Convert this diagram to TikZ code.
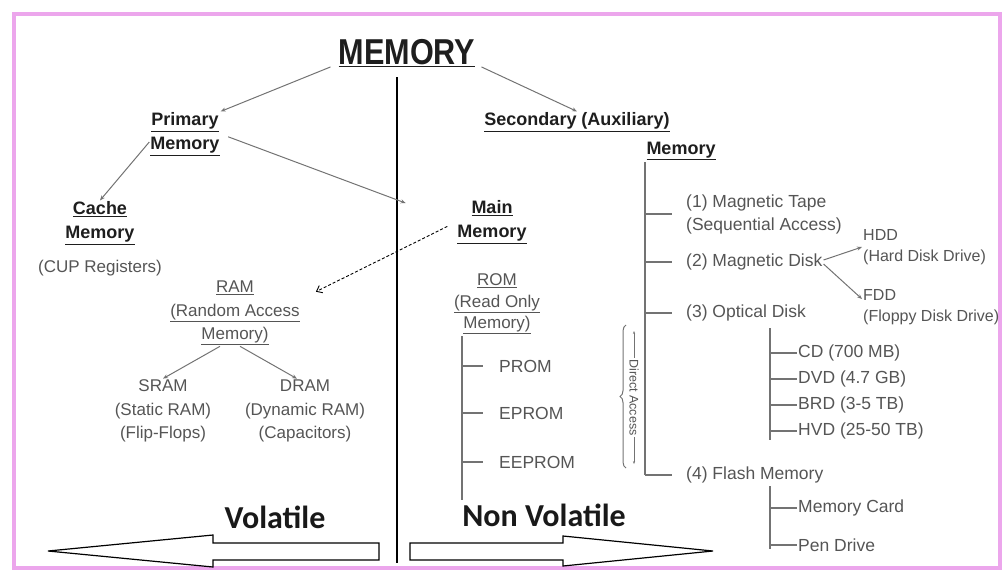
\documentclass[tikz,border=0pt]{standalone}
\usepackage{fontspec}
\setmainfont{Liberation Sans}
\newfontfamily\titlefont[FakeStretch=0.85]{Liberation Sans}
\newfontfamily\volfont{Carlito}
\usepackage{xcolor}
\usetikzlibrary{arrows.meta, positioning, calc, decorations.pathreplacing}
\definecolor{memPink}{RGB}{236,166,236}
\definecolor{memHead}{RGB}{30,30,30}
\definecolor{memGray}{RGB}{85,85,85}
\definecolor{memLine}{RGB}{115,115,115}

\begin{document}
\begin{tikzpicture}[x=1pt, y=-1pt]
    \tikzstyle{headtext} = [align=center, inner sep=1pt, text=memHead, font=\fontsize{18}{24}\selectfont\bfseries]
    \tikzstyle{subtext} = [align=center, inner sep=1pt, text=memGray, font=\fontsize{17}{23.5}\selectfont]
    \tikzstyle{itemtext} = [anchor=west, align=left, inner sep=1pt, text=memGray, font=\fontsize{17.5}{23}\selectfont]
    \tikzstyle{drivetext} = [itemtext, font=\fontsize{16}{21}\selectfont]
    \tikzstyle{bigword} = [inner sep=0pt, text=black!90, font=\volfont\fontsize{32}{36}\selectfont\bfseries]
    \tikzstyle{arrow} = [-{Stealth[length=5pt, width=4pt]}, line width=1pt, memLine]
    \tikzstyle{treeline} = [line width=1.2pt, memLine]
    \tikzstyle{blockarrow} = [line width=1.2pt, black, fill=white, line join=miter]

    \useasboundingbox (0,0) rectangle (1003,571);
    \draw[line width=4pt, memPink] (14,14) rectangle (1000,568);

    % left half
    \node[inner sep=0pt, text=memHead, font=\titlefont\fontsize{36}{40}\selectfont\bfseries] (memory) at (407,53) {\underline{MEMORY}};
    \node[headtext] (primary) at (185,134) {\underline{Primary}\\\underline{Memory}};
    \node[headtext] (cache) at (100,223) {\underline{Cache}\\\underline{Memory}};
    \node[subtext] (cup) at (100,268) {(CUP Registers)};
    \node[subtext] (ram) at (235,313) {\underline{RAM}\\\underline{(Random Access}\\\underline{Memory)}};
    \node[subtext] (sram) at (163,411) {SRAM\\(Static RAM)\\(Flip-Flops)};
    \node[subtext] (dram) at (305,411) {DRAM\\(Dynamic RAM)\\(Capacitors)};
    \node[bigword] (volatile) at (275,517) {Volatile};

    % middle
    \node[headtext] (main) at (492,222) {\underline{Main}\\\underline{Memory}};
    \node[subtext, font=\fontsize{17}{21.5}\selectfont] (rom) at (497,304) {\underline{ROM}\\\underline{(Read Only}\\\underline{Memory)}};
    \node[itemtext] (prom) at (498,366) {PROM};
    \node[itemtext] (eprom) at (498,413) {EPROM};
    \node[itemtext] (eeprom) at (498,462) {EEPROM};
    \node[bigword] (nonvolatile) at (544,515) {Non Volatile};

    % right half
    \node[headtext] (secondary) at (577,122) {\underline{Secondary (Auxiliary)}};
    \node[headtext] (secmem) at (681,151) {\underline{Memory}};
    \node[itemtext] (tape) at (685,214) {(1) Magnetic Tape\\(Sequential Access)};
    \node[itemtext] (disk) at (685,262) {(2) Magnetic Disk};
    \node[drivetext] (hdd) at (862,247) {HDD\\(Hard Disk Drive)};
    \node[drivetext] (fdd) at (862,307) {FDD\\(Floppy Disk Drive)};
    \node[itemtext] (optical) at (685,313) {(3) Optical Disk};
    \node[itemtext] (cd) at (797,353) {CD (700 MB)};
    \node[itemtext] (dvd) at (797,379) {DVD (4.7 GB)};
    \node[itemtext] (brd) at (797,405) {BRD (3-5 TB)};
    \node[itemtext] (hvd) at (797,431) {HVD (25-50 TB)};
    \node[itemtext] (flash) at (685,475) {(4) Flash Memory};
    \node[itemtext] (card) at (797,508) {Memory Card};
    \node[itemtext] (pen) at (797,545) {Pen Drive};

    \coordinate (divtop) at (397,77);
    \coordinate (divbot) at (397,563);
    \coordinate (sectop) at (645,162);
    \coordinate (romtop) at (462,336);
    \coordinate (opttop) at (770,328);
    \coordinate (flashtop) at (770,486);
    \coordinate (datop) at (626,325);
    \coordinate (dabot) at (626,468);
    \coordinate (daup) at (634,331);
    \coordinate (dadown) at (634,464);

    \draw[line width=1.4pt, black] (divtop) -- (divbot);

    \draw[arrow] ([xshift=-8pt]memory.south west) -- (primary.north east);
    \draw[arrow] ([xshift=6pt]memory.south east) -- (secondary.north);
    \draw[arrow] ([yshift=-8pt]primary.west) -- (cache.north);
    \draw[arrow, shorten <=8pt, shorten >=54pt] (primary.east) -- (main.west);
    \draw[-{Straight Barb[length=5pt, width=8pt]}, densely dashed, line width=0.9pt, black, shorten <=10pt] (main.west) -- ([xshift=15pt, yshift=-12pt]ram.north east);
    \draw[arrow] ([xshift=-15pt]ram.south) -- (sram.north);
    \draw[arrow] ([xshift=5pt]ram.south) -- ([xshift=-8pt]dram.north);
    \draw[arrow] ([yshift=2pt]disk.east) -- (hdd.west);
    \draw[arrow] ([yshift=-2pt]disk.east) -- ([yshift=8pt]fdd.west);

    % ROM tree
    \draw[treeline] (romtop) -- ($(romtop |- eeprom.west)+(0,38)$);
    \draw[treeline] (romtop |- prom.west) -- ++(21,0);
    \draw[treeline] (romtop |- eprom.west) -- ++(21,0);
    \draw[treeline] (romtop |- eeprom.west) -- ++(21,0);

    % secondary tree
    \draw[treeline] (sectop) -- (sectop |- flash.west);
    \draw[treeline] (sectop |- tape.west) -- ++(27,0);
    \draw[treeline] (sectop |- disk.west) -- ++(27,0);
    \draw[treeline] (sectop |- optical.west) -- ++(27,0);
    \draw[treeline] (sectop |- flash.west) -- ++(27,0);

    \draw[treeline] (opttop) -- ($(opttop |- hvd.west)+(0,9)$);
    \draw[treeline] (opttop |- cd.west) -- (cd.west);
    \draw[treeline] (opttop |- dvd.west) -- (dvd.west);
    \draw[treeline] (opttop |- brd.west) -- (brd.west);
    \draw[treeline] (opttop |- hvd.west) -- (hvd.west);

    \draw[treeline] (flashtop) -- ($(flashtop |- pen.west)+(0,4)$);
    \draw[treeline] (flashtop |- card.west) -- (card.west);
    \draw[treeline] (flashtop |- pen.west) -- (pen.west);

    % direct access
    \draw[memLine, line width=1pt, decorate, decoration={brace, amplitude=6pt}] (dabot) -- (datop);
    \draw[{Stealth[length=3pt]}-{Stealth[length=3pt]}, memLine, line width=0.6pt] (daup) -- (dadown) node[midway, fill=white, rotate=-90, inner sep=1pt, text=memGray, font=\fontsize{12.5}{14}\selectfont] (direct) {Direct Access};

    % block arrows
    \draw[blockarrow] (379,543) -- (213,543) -- (213,535) -- (48,551) -- (213,567) -- (213,560) -- (379,560) -- cycle;
    \draw[blockarrow] (410,543) -- (563,543) -- (563,536) -- (713,551) -- (563,566) -- (563,560) -- (410,560) -- cycle;
\end{tikzpicture}
\end{document}
